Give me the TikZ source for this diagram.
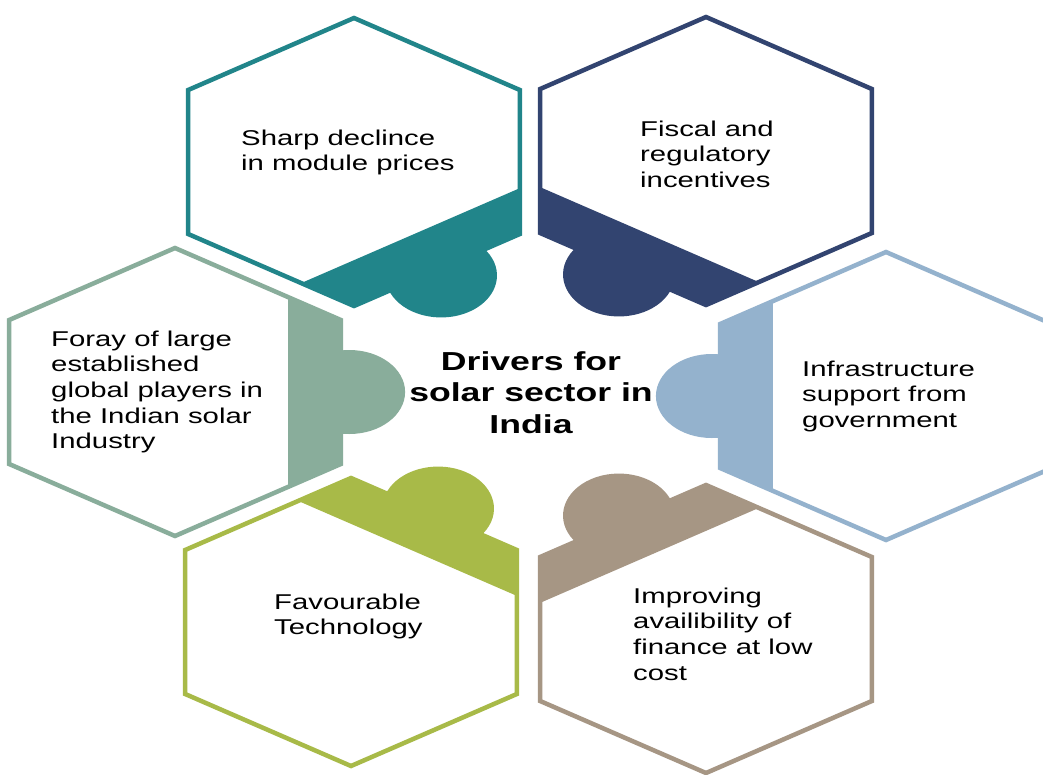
\documentclass[tikz,border=0pt]{standalone}
\usepackage{fontspec}
\setmainfont{Liberation Sans}[FakeStretch=1.37]
\definecolor{cteal}{HTML}{21858A}
\definecolor{cnavy}{HTML}{324470}
\definecolor{csage}{HTML}{89AD9B}
\definecolor{cblue}{HTML}{94B2CD}
\definecolor{cgreen}{HTML}{A8BA48}
\definecolor{ctaupe}{HTML}{A69684}
\tikzset{
  hexline/.style={line width=4.5pt, line join=miter},
  lbl/.style={anchor=base west, align=left, inner sep=0pt,
    font=\fontsize{21.4}{25.7}\selectfont},
  ttl/.style={anchor=base, align=center, inner sep=0pt,
    font=\fontsize{26}{31.7}\selectfont\bfseries},
}
\newcommand\hexpiece[3]{%
  \begin{scope}[shift={#1}, xscale=1.33, rotate=#2]
    \fill[#3] (85,94.9) -- (124.7,72) -- (124.7,-72) -- (85,-94.9) -- cycle;
    \fill[#3] (131,0) circle[radius=42];
    \draw[#3, hexline] (30:144) -- (90:144) -- (150:144) -- (210:144)
      -- (270:144) -- (330:144) -- cycle;
  \end{scope}}
\begin{document}
\begin{tikzpicture}[x=1pt, y=-1pt]
  \useasboundingbox (0,0) rectangle (1043,774);
  \fill[white] (0,0) rectangle (1043,774);
  \clip (0,0) rectangle (1043,774);
  \hexpiece{(354,162)}{-60}{cteal}
  \hexpiece{(706,161)}{-120}{cnavy}
  \hexpiece{(175,392)}{0}{csage}
  \hexpiece{(886,396)}{180}{cblue}
  \hexpiece{(351,622)}{60}{cgreen}
  \hexpiece{(706,629)}{120}{ctaupe}
  % base anchor of a multi-line node = baseline of its last line
  \node[lbl] (t1) at (241,170.7) {Sharp declince\\in module prices};
  \node[lbl] (t2) at (640,187.4) {Fiscal and\\regulatory\\incentives};
  \node[lbl] (t3) at (51,448.8) {Foray of large\\established\\global players in\\the Indian solar\\Industry};
  \node[lbl] (t4) at (802,427.4) {Infrastructure\\support from\\government};
  \node[lbl] (t5) at (274,634.7) {Favourable\\Technology};
  \node[lbl] (t6) at (633,680.1) {Improving\\availibility of\\finance at low\\cost};
  \node[ttl] (c) at (531,433.4) {Drivers for\\solar sector in\\India};
\end{tikzpicture}
\end{document}
